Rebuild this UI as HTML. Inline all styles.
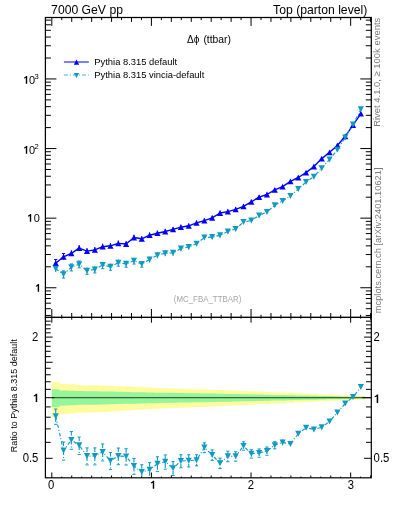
<!DOCTYPE html>
<html><head><meta charset="utf-8"><style>
html,body{margin:0;padding:0;background:#fff;overflow:hidden;width:393px;height:512px;}
svg{display:block;will-change:transform;}
text{font-family:'Liberation Sans',sans-serif;}
</style></head><body>
<svg width="393" height="512" viewBox="0 0 393 512">
<defs>
<clipPath id="cm"><rect x="45.4" y="17.5" width="325.90" height="299.90"/></clipPath>
<clipPath id="cr"><rect x="45.4" y="317.4" width="325.90" height="160.40"/></clipPath>
</defs>
<rect width="393" height="512" fill="#fff"/>
<path d="M51.80,381.76 L59.62,381.76 L59.62,383.97 L67.45,383.97 L67.45,384.35 L75.27,384.35 L75.27,384.95 L83.10,384.95 L83.10,385.13 L90.92,385.13 L90.92,385.30 L98.74,385.30 L98.74,385.48 L106.57,385.48 L106.57,385.86 L114.39,385.86 L114.39,386.25 L122.22,386.25 L122.22,386.57 L130.04,386.57 L130.04,386.90 L137.87,386.90 L137.87,387.24 L145.69,387.24 L145.69,387.57 L153.51,387.57 L153.51,387.90 L161.34,387.90 L161.34,388.24 L169.16,388.24 L169.16,388.58 L176.99,388.58 L176.99,388.77 L184.81,388.77 L184.81,388.97 L192.63,388.97 L192.63,389.17 L200.46,389.17 L200.46,389.37 L208.28,389.37 L208.28,389.68 L216.11,389.68 L216.11,389.99 L223.93,389.99 L223.93,390.31 L231.76,390.31 L231.76,390.62 L239.58,390.62 L239.58,390.94 L247.40,390.94 L247.40,391.26 L255.23,391.26 L255.23,391.57 L263.05,391.57 L263.05,391.89 L270.88,391.89 L270.88,392.22 L278.70,392.22 L278.70,392.54 L286.52,392.54 L286.52,392.86 L294.35,392.86 L294.35,393.19 L302.17,393.19 L302.17,393.53 L310.00,393.53 L310.00,393.87 L317.82,393.87 L317.82,394.22 L325.64,394.22 L325.64,394.57 L333.47,394.57 L333.47,394.91 L341.29,394.91 L341.29,395.26 L349.12,395.26 L349.12,395.62 L356.94,395.62 L356.94,395.97 L364.77,395.97 L364.77,399.47 L356.94,399.47 L356.94,399.83 L349.12,399.83 L349.12,400.21 L341.29,400.21 L341.29,400.58 L333.47,400.58 L333.47,400.95 L325.64,400.95 L325.64,401.33 L317.82,401.33 L317.82,401.70 L310.00,401.70 L310.00,402.08 L302.17,402.08 L302.17,402.46 L294.35,402.46 L294.35,402.82 L286.52,402.82 L286.52,403.19 L278.70,403.19 L278.70,403.55 L270.88,403.55 L270.88,403.92 L263.05,403.92 L263.05,404.29 L255.23,404.29 L255.23,404.66 L247.40,404.66 L247.40,405.03 L239.58,405.03 L239.58,405.40 L231.76,405.40 L231.76,405.78 L223.93,405.78 L223.93,406.15 L216.11,406.15 L216.11,406.53 L208.28,406.53 L208.28,406.91 L200.46,406.91 L200.46,407.15 L192.63,407.15 L192.63,407.40 L184.81,407.40 L184.81,407.64 L176.99,407.64 L176.99,407.89 L169.16,407.89 L169.16,408.31 L161.34,408.31 L161.34,408.73 L153.51,408.73 L153.51,409.16 L145.69,409.16 L145.69,409.59 L137.87,409.59 L137.87,410.02 L130.04,410.02 L130.04,410.45 L122.22,410.45 L122.22,410.89 L114.39,410.89 L114.39,411.40 L106.57,411.40 L106.57,411.91 L98.74,411.91 L98.74,412.15 L90.92,412.15 L90.92,412.39 L83.10,412.39 L83.10,412.63 L75.27,412.63 L75.27,413.46 L67.45,413.46 L67.45,413.99 L59.62,413.99 L59.62,417.21 L51.80,417.21Z" fill="#fffb9e"/>
<path d="M51.80,389.37 L59.62,389.37 L59.62,390.57 L67.45,390.57 L67.45,390.77 L75.27,390.77 L75.27,391.09 L83.10,391.09 L83.10,391.19 L90.92,391.19 L90.92,391.28 L98.74,391.28 L98.74,391.38 L106.57,391.38 L106.57,391.58 L114.39,391.58 L114.39,391.79 L122.22,391.79 L122.22,391.96 L130.04,391.96 L130.04,392.14 L137.87,392.14 L137.87,392.31 L145.69,392.31 L145.69,392.49 L153.51,392.49 L153.51,392.66 L161.34,392.66 L161.34,392.84 L169.16,392.84 L169.16,393.02 L176.99,393.02 L176.99,393.12 L184.81,393.12 L184.81,393.23 L192.63,393.23 L192.63,393.33 L200.46,393.33 L200.46,393.43 L208.28,393.43 L208.28,393.60 L216.11,393.60 L216.11,393.76 L223.93,393.76 L223.93,393.93 L231.76,393.93 L231.76,394.09 L239.58,394.09 L239.58,394.25 L247.40,394.25 L247.40,394.42 L255.23,394.42 L255.23,394.58 L263.05,394.58 L263.05,394.75 L270.88,394.75 L270.88,394.91 L278.70,394.91 L278.70,395.08 L286.52,395.08 L286.52,395.25 L294.35,395.25 L294.35,395.41 L302.17,395.41 L302.17,395.59 L310.00,395.59 L310.00,395.77 L317.82,395.77 L317.82,395.94 L325.64,395.94 L325.64,396.12 L333.47,396.12 L333.47,396.30 L341.29,396.30 L341.29,396.47 L349.12,396.47 L349.12,396.65 L356.94,396.65 L356.94,396.83 L364.77,396.83 L364.77,398.58 L356.94,398.58 L356.94,398.76 L349.12,398.76 L349.12,398.94 L341.29,398.94 L341.29,399.13 L333.47,399.13 L333.47,399.31 L325.64,399.31 L325.64,399.49 L317.82,399.49 L317.82,399.68 L310.00,399.68 L310.00,399.86 L302.17,399.86 L302.17,400.05 L294.35,400.05 L294.35,400.22 L286.52,400.22 L286.52,400.40 L278.70,400.40 L278.70,400.58 L270.88,400.58 L270.88,400.75 L263.05,400.75 L263.05,400.93 L255.23,400.93 L255.23,401.11 L247.40,401.11 L247.40,401.29 L239.58,401.29 L239.58,401.47 L231.76,401.47 L231.76,401.65 L223.93,401.65 L223.93,401.82 L216.11,401.82 L216.11,402.00 L208.28,402.00 L208.28,402.18 L200.46,402.18 L200.46,402.30 L192.63,402.30 L192.63,402.41 L184.81,402.41 L184.81,402.53 L176.99,402.53 L176.99,402.65 L169.16,402.65 L169.16,402.84 L161.34,402.84 L161.34,403.04 L153.51,403.04 L153.51,403.24 L145.69,403.24 L145.69,403.44 L137.87,403.44 L137.87,403.64 L130.04,403.64 L130.04,403.84 L122.22,403.84 L122.22,404.04 L114.39,404.04 L114.39,404.28 L106.57,404.28 L106.57,404.52 L98.74,404.52 L98.74,404.63 L90.92,404.63 L90.92,404.74 L83.10,404.74 L83.10,404.85 L75.27,404.85 L75.27,405.23 L67.45,405.23 L67.45,405.47 L59.62,405.47 L59.62,406.91 L51.80,406.91Z" fill="#94f59a"/>
<line x1="51.80" y1="397.70" x2="371.30" y2="397.70" stroke="#3d6438" stroke-width="1.2"/>
<g clip-path="url(#cm)">
<polyline fill="none" stroke="#0000ff" stroke-width="1.4" stroke-linejoin="round" points="55.71,263.20 63.54,256.80 71.36,253.40 79.18,248.20 87.01,251.10 94.83,249.90 102.66,246.70 110.48,245.80 118.31,243.40 126.13,244.00 133.95,237.50 141.78,238.80 149.60,235.20 157.43,233.20 165.25,231.50 173.07,229.40 180.90,227.20 188.72,225.80 196.55,222.80 204.37,220.60 212.19,217.90 220.02,213.00 227.84,211.60 235.67,209.30 243.49,206.30 251.32,201.80 259.14,197.10 266.96,194.50 274.79,189.80 282.61,186.60 290.44,181.30 298.26,177.50 306.08,172.60 313.91,166.50 321.73,158.60 329.56,152.30 337.38,145.50 345.21,136.30 353.03,125.20 360.85,113.70"/>
<polyline fill="none" stroke="#0f9ac4" stroke-width="1.15" stroke-dasharray="3.5,2,1,2" points="55.71,268.82 63.54,274.22 71.36,267.23 79.18,264.21 87.01,270.81 94.83,269.41 102.66,265.07 110.48,266.73 118.31,262.71 126.13,263.85 133.95,260.75 141.78,263.96 149.60,259.48 157.43,255.16 165.25,253.21 173.07,252.85 180.90,248.54 188.72,247.03 196.55,243.69 204.37,237.56 212.19,237.04 220.02,235.37 227.84,231.42 235.67,228.97 243.49,222.02 251.32,220.54 259.14,215.44 266.96,212.06 274.79,205.19 282.61,200.95 290.44,195.93 298.26,189.00 306.08,182.04 313.91,176.66 321.73,168.13 329.56,159.48 337.38,149.82 345.21,137.49 353.03,124.57 360.85,109.34"/>
<line x1="55.71" y1="265.94" x2="55.71" y2="272.01" stroke="#0f9ac4" stroke-width="1.1" />
<line x1="63.54" y1="270.84" x2="63.54" y2="278.04" stroke="#0f9ac4" stroke-width="1.1" /><line x1="61.94" y1="278.04" x2="65.14" y2="278.04" stroke="#0f9ac4" stroke-width="1"/><line x1="61.94" y1="270.84" x2="65.14" y2="270.84" stroke="#0f9ac4" stroke-width="1"/>
<line x1="71.36" y1="263.91" x2="71.36" y2="270.96" stroke="#0f9ac4" stroke-width="1.1" /><line x1="69.76" y1="270.96" x2="72.96" y2="270.96" stroke="#0f9ac4" stroke-width="1"/><line x1="69.76" y1="263.91" x2="72.96" y2="263.91" stroke="#0f9ac4" stroke-width="1"/>
<line x1="79.18" y1="260.95" x2="79.18" y2="267.87" stroke="#0f9ac4" stroke-width="1.1" /><line x1="77.58" y1="267.87" x2="80.78" y2="267.87" stroke="#0f9ac4" stroke-width="1"/><line x1="77.58" y1="260.95" x2="80.78" y2="260.95" stroke="#0f9ac4" stroke-width="1"/>
<line x1="87.01" y1="267.62" x2="87.01" y2="274.39" stroke="#0f9ac4" stroke-width="1.1" /><line x1="85.41" y1="274.39" x2="88.61" y2="274.39" stroke="#0f9ac4" stroke-width="1"/>
<line x1="94.83" y1="266.22" x2="94.83" y2="272.99" stroke="#0f9ac4" stroke-width="1.1" /><line x1="93.23" y1="272.99" x2="96.43" y2="272.99" stroke="#0f9ac4" stroke-width="1"/>
<line x1="102.66" y1="261.88" x2="102.66" y2="268.65" stroke="#0f9ac4" stroke-width="1.1" /><line x1="101.06" y1="268.65" x2="104.26" y2="268.65" stroke="#0f9ac4" stroke-width="1"/>
<line x1="110.48" y1="263.53" x2="110.48" y2="270.30" stroke="#0f9ac4" stroke-width="1.1" /><line x1="108.88" y1="270.30" x2="112.08" y2="270.30" stroke="#0f9ac4" stroke-width="1"/>
<line x1="118.31" y1="259.59" x2="118.31" y2="266.20" stroke="#0f9ac4" stroke-width="1.1" /><line x1="116.71" y1="266.20" x2="119.91" y2="266.20" stroke="#0f9ac4" stroke-width="1"/>
<line x1="126.13" y1="260.80" x2="126.13" y2="267.25" stroke="#0f9ac4" stroke-width="1.1" /><line x1="124.53" y1="267.25" x2="127.73" y2="267.25" stroke="#0f9ac4" stroke-width="1"/>
<line x1="133.95" y1="257.77" x2="133.95" y2="264.07" stroke="#0f9ac4" stroke-width="1.1" /><line x1="132.35" y1="264.07" x2="135.55" y2="264.07" stroke="#0f9ac4" stroke-width="1"/>
<line x1="141.78" y1="261.05" x2="141.78" y2="267.19" stroke="#0f9ac4" stroke-width="1.1" /><line x1="140.18" y1="267.19" x2="143.38" y2="267.19" stroke="#0f9ac4" stroke-width="1"/>
<line x1="149.60" y1="256.63" x2="149.60" y2="262.62" stroke="#0f9ac4" stroke-width="1.1" />
<line x1="157.43" y1="252.39" x2="157.43" y2="258.22" stroke="#0f9ac4" stroke-width="1.1" />
<line x1="165.25" y1="250.51" x2="165.25" y2="256.18" stroke="#0f9ac4" stroke-width="1.1" />
<line x1="173.07" y1="250.23" x2="173.07" y2="255.73" stroke="#0f9ac4" stroke-width="1.1" />
<line x1="180.90" y1="246.06" x2="180.90" y2="251.25" stroke="#0f9ac4" stroke-width="1.1" />
<line x1="188.72" y1="244.69" x2="188.72" y2="249.56" stroke="#0f9ac4" stroke-width="1.1" />
<line x1="196.55" y1="241.57" x2="196.55" y2="245.96" stroke="#0f9ac4" stroke-width="1.1" />
<line x1="204.37" y1="235.67" x2="204.37" y2="239.57" stroke="#0f9ac4" stroke-width="1.1" />
<line x1="212.19" y1="235.02" x2="212.19" y2="239.20" stroke="#0f9ac4" stroke-width="1.1" />
<line x1="220.02" y1="233.35" x2="220.02" y2="237.53" stroke="#0f9ac4" stroke-width="1.1" />
<line x1="227.84" y1="229.41" x2="227.84" y2="233.58" stroke="#0f9ac4" stroke-width="1.1" />
<line x1="235.67" y1="227.15" x2="235.67" y2="230.91" stroke="#0f9ac4" stroke-width="1.1" />
<line x1="243.49" y1="220.39" x2="243.49" y2="223.73" stroke="#0f9ac4" stroke-width="1.1" />
<line x1="251.32" y1="218.92" x2="251.32" y2="222.24" stroke="#0f9ac4" stroke-width="1.1" />
<line x1="259.14" y1="213.84" x2="259.14" y2="217.14" stroke="#0f9ac4" stroke-width="1.1" />
<line x1="266.96" y1="210.47" x2="266.96" y2="213.74" stroke="#0f9ac4" stroke-width="1.1" />
<line x1="274.79" y1="203.80" x2="274.79" y2="206.65" stroke="#0f9ac4" stroke-width="1.1" />
<line x1="282.61" y1="199.76" x2="282.61" y2="202.19" stroke="#0f9ac4" stroke-width="1.1" />
<line x1="290.44" y1="194.88" x2="290.44" y2="197.02" stroke="#0f9ac4" stroke-width="1.1" />
<line x1="298.26" y1="188.10" x2="298.26" y2="189.93" stroke="#0f9ac4" stroke-width="1.1" />
<line x1="306.08" y1="181.29" x2="306.08" y2="182.82" stroke="#0f9ac4" stroke-width="1.1" />
<line x1="313.91" y1="175.97" x2="313.91" y2="177.38" stroke="#0f9ac4" stroke-width="1.1" />
<line x1="321.73" y1="167.49" x2="321.73" y2="168.78" stroke="#0f9ac4" stroke-width="1.1" />
<line x1="329.56" y1="158.90" x2="329.56" y2="160.06" stroke="#0f9ac4" stroke-width="1.1" />
<line x1="337.38" y1="149.30" x2="337.38" y2="150.34" stroke="#0f9ac4" stroke-width="1.1" />
<line x1="345.21" y1="137.03" x2="345.21" y2="137.96" stroke="#0f9ac4" stroke-width="1.1" />
<line x1="353.03" y1="124.17" x2="353.03" y2="124.98" stroke="#0f9ac4" stroke-width="1.1" />
<line x1="360.85" y1="108.99" x2="360.85" y2="109.69" stroke="#0f9ac4" stroke-width="1.1" />
<line x1="55.71" y1="259.52" x2="55.71" y2="266.38" stroke="#0000ff" stroke-width="1.1"/>
<line x1="54.11" y1="259.52" x2="57.31" y2="259.52" stroke="#0000ff" stroke-width="1"/>
<path d="M52.61,266.10 L58.81,266.10 L55.71,260.30Z" fill="#0000ff"/>
<line x1="63.54" y1="253.53" x2="63.54" y2="259.49" stroke="#0000ff" stroke-width="1.1"/>
<line x1="61.94" y1="253.53" x2="65.14" y2="253.53" stroke="#0000ff" stroke-width="1"/>
<path d="M60.44,259.70 L66.64,259.70 L63.54,253.90Z" fill="#0000ff"/>
<line x1="71.36" y1="250.20" x2="71.36" y2="256.00" stroke="#0000ff" stroke-width="1.1"/>
<path d="M68.26,256.30 L74.46,256.30 L71.36,250.50Z" fill="#0000ff"/>
<line x1="79.18" y1="245.12" x2="79.18" y2="250.67" stroke="#0000ff" stroke-width="1.1"/>
<path d="M76.08,251.10 L82.28,251.10 L79.18,245.30Z" fill="#0000ff"/>
<line x1="87.01" y1="248.05" x2="87.01" y2="253.53" stroke="#0000ff" stroke-width="1.1"/>
<path d="M83.91,254.00 L90.11,254.00 L87.01,248.20Z" fill="#0000ff"/>
<line x1="94.83" y1="246.88" x2="94.83" y2="252.29" stroke="#0000ff" stroke-width="1.1"/>
<path d="M91.73,252.80 L97.93,252.80 L94.83,247.00Z" fill="#0000ff"/>
<line x1="102.66" y1="243.71" x2="102.66" y2="249.06" stroke="#0000ff" stroke-width="1.1"/>
<path d="M99.56,249.60 L105.76,249.60 L102.66,243.80Z" fill="#0000ff"/>
<line x1="110.48" y1="242.88" x2="110.48" y2="248.07" stroke="#0000ff" stroke-width="1.1"/>
<path d="M107.38,248.70 L113.58,248.70 L110.48,242.90Z" fill="#0000ff"/>
<line x1="118.31" y1="240.55" x2="118.31" y2="245.59" stroke="#0000ff" stroke-width="1.1"/>
<path d="M115.21,246.30 L121.41,246.30 L118.31,240.50Z" fill="#0000ff"/>
<line x1="126.13" y1="241.22" x2="126.13" y2="246.12" stroke="#0000ff" stroke-width="1.1"/>
<path d="M123.03,246.90 L129.23,246.90 L126.13,241.10Z" fill="#0000ff"/>
<line x1="133.95" y1="234.78" x2="133.95" y2="239.55" stroke="#0000ff" stroke-width="1.1"/>
<path d="M130.85,240.40 L137.05,240.40 L133.95,234.60Z" fill="#0000ff"/>
<line x1="141.78" y1="236.14" x2="141.78" y2="240.79" stroke="#0000ff" stroke-width="1.1"/>
<path d="M138.68,241.70 L144.88,241.70 L141.78,235.90Z" fill="#0000ff"/>
<line x1="149.60" y1="232.60" x2="149.60" y2="237.12" stroke="#0000ff" stroke-width="1.1"/>
<path d="M146.50,238.10 L152.70,238.10 L149.60,232.30Z" fill="#0000ff"/>
<line x1="157.43" y1="230.66" x2="157.43" y2="235.05" stroke="#0000ff" stroke-width="1.1"/>
<path d="M154.33,236.10 L160.53,236.10 L157.43,230.30Z" fill="#0000ff"/>
<line x1="165.25" y1="229.02" x2="165.25" y2="233.28" stroke="#0000ff" stroke-width="1.1"/>
<path d="M162.15,234.40 L168.35,234.40 L165.25,228.60Z" fill="#0000ff"/>
<line x1="173.07" y1="226.98" x2="173.07" y2="231.11" stroke="#0000ff" stroke-width="1.1"/>
<path d="M169.97,232.30 L176.17,232.30 L173.07,226.50Z" fill="#0000ff"/>
<line x1="180.90" y1="224.82" x2="180.90" y2="228.87" stroke="#0000ff" stroke-width="1.1"/>
<path d="M177.80,230.10 L184.00,230.10 L180.90,224.30Z" fill="#0000ff"/>
<line x1="188.72" y1="223.45" x2="188.72" y2="227.43" stroke="#0000ff" stroke-width="1.1"/>
<path d="M185.62,228.70 L191.82,228.70 L188.72,222.90Z" fill="#0000ff"/>
<line x1="196.55" y1="220.49" x2="196.55" y2="224.39" stroke="#0000ff" stroke-width="1.1"/>
<path d="M193.45,225.70 L199.65,225.70 L196.55,219.90Z" fill="#0000ff"/>
<line x1="204.37" y1="218.33" x2="204.37" y2="222.15" stroke="#0000ff" stroke-width="1.1"/>
<path d="M201.27,223.50 L207.47,223.50 L204.37,217.70Z" fill="#0000ff"/>
<line x1="212.19" y1="215.68" x2="212.19" y2="219.39" stroke="#0000ff" stroke-width="1.1"/>
<path d="M209.09,220.80 L215.29,220.80 L212.19,215.00Z" fill="#0000ff"/>
<line x1="220.02" y1="210.84" x2="220.02" y2="214.43" stroke="#0000ff" stroke-width="1.1"/>
<path d="M216.92,215.90 L223.12,215.90 L220.02,210.10Z" fill="#0000ff"/>
<line x1="227.84" y1="209.49" x2="227.84" y2="212.96" stroke="#0000ff" stroke-width="1.1"/>
<path d="M224.74,214.50 L230.94,214.50 L227.84,208.70Z" fill="#0000ff"/>
<line x1="235.67" y1="207.25" x2="235.67" y2="210.60" stroke="#0000ff" stroke-width="1.1"/>
<path d="M232.57,212.20 L238.77,212.20 L235.67,206.40Z" fill="#0000ff"/>
<line x1="243.49" y1="204.31" x2="243.49" y2="207.54" stroke="#0000ff" stroke-width="1.1"/>
<path d="M240.39,209.20 L246.59,209.20 L243.49,203.40Z" fill="#0000ff"/>
<line x1="251.32" y1="199.87" x2="251.32" y2="202.98" stroke="#0000ff" stroke-width="1.1"/>
<path d="M248.22,204.70 L254.42,204.70 L251.32,198.90Z" fill="#0000ff"/>
<line x1="259.14" y1="195.22" x2="259.14" y2="198.22" stroke="#0000ff" stroke-width="1.1"/>
<path d="M256.04,200.00 L262.24,200.00 L259.14,194.20Z" fill="#0000ff"/>
<line x1="266.96" y1="192.68" x2="266.96" y2="195.56" stroke="#0000ff" stroke-width="1.1"/>
<path d="M263.86,197.40 L270.06,197.40 L266.96,191.60Z" fill="#0000ff"/>
<line x1="274.79" y1="188.04" x2="274.79" y2="190.79" stroke="#0000ff" stroke-width="1.1"/>
<path d="M271.69,192.70 L277.89,192.70 L274.79,186.90Z" fill="#0000ff"/>
<line x1="282.61" y1="184.89" x2="282.61" y2="187.53" stroke="#0000ff" stroke-width="1.1"/>
<path d="M279.51,189.50 L285.71,189.50 L282.61,183.70Z" fill="#0000ff"/>
<line x1="290.44" y1="179.65" x2="290.44" y2="182.17" stroke="#0000ff" stroke-width="1.1"/>
<path d="M287.34,184.20 L293.54,184.20 L290.44,178.40Z" fill="#0000ff"/>
<line x1="298.26" y1="175.91" x2="298.26" y2="178.31" stroke="#0000ff" stroke-width="1.1"/>
<path d="M295.16,180.40 L301.36,180.40 L298.26,174.60Z" fill="#0000ff"/>
<line x1="306.08" y1="171.07" x2="306.08" y2="173.35" stroke="#0000ff" stroke-width="1.1"/>
<path d="M302.98,175.50 L309.18,175.50 L306.08,169.70Z" fill="#0000ff"/>
<line x1="313.91" y1="165.03" x2="313.91" y2="167.18" stroke="#0000ff" stroke-width="1.1"/>
<path d="M310.81,169.40 L317.01,169.40 L313.91,163.60Z" fill="#0000ff"/>
<line x1="321.73" y1="157.19" x2="321.73" y2="159.22" stroke="#0000ff" stroke-width="1.1"/>
<path d="M318.63,161.50 L324.83,161.50 L321.73,155.70Z" fill="#0000ff"/>
<line x1="329.56" y1="150.95" x2="329.56" y2="152.86" stroke="#0000ff" stroke-width="1.1"/>
<path d="M326.46,155.20 L332.66,155.20 L329.56,149.40Z" fill="#0000ff"/>
<line x1="337.38" y1="144.21" x2="337.38" y2="145.99" stroke="#0000ff" stroke-width="1.1"/>
<path d="M334.28,148.40 L340.48,148.40 L337.38,142.60Z" fill="#0000ff"/>
<line x1="345.21" y1="135.08" x2="345.21" y2="136.73" stroke="#0000ff" stroke-width="1.1"/>
<path d="M342.11,139.20 L348.31,139.20 L345.21,133.40Z" fill="#0000ff"/>
<line x1="353.03" y1="124.04" x2="353.03" y2="125.57" stroke="#0000ff" stroke-width="1.1"/>
<path d="M349.93,128.10 L356.13,128.10 L353.03,122.30Z" fill="#0000ff"/>
<line x1="360.85" y1="112.60" x2="360.85" y2="114.00" stroke="#0000ff" stroke-width="1.1"/>
<path d="M357.75,116.60 L363.95,116.60 L360.85,110.80Z" fill="#0000ff"/>
<path d="M52.61,265.82 L58.81,265.82 L55.71,271.82Z" fill="#0f9ac4"/>
<path d="M60.44,271.22 L66.64,271.22 L63.54,277.22Z" fill="#0f9ac4"/>
<path d="M68.26,264.23 L74.46,264.23 L71.36,270.23Z" fill="#0f9ac4"/>
<path d="M76.08,261.21 L82.28,261.21 L79.18,267.21Z" fill="#0f9ac4"/>
<path d="M83.91,267.81 L90.11,267.81 L87.01,273.81Z" fill="#0f9ac4"/>
<path d="M91.73,266.41 L97.93,266.41 L94.83,272.41Z" fill="#0f9ac4"/>
<path d="M99.56,262.07 L105.76,262.07 L102.66,268.07Z" fill="#0f9ac4"/>
<path d="M107.38,263.73 L113.58,263.73 L110.48,269.73Z" fill="#0f9ac4"/>
<path d="M115.21,259.71 L121.41,259.71 L118.31,265.71Z" fill="#0f9ac4"/>
<path d="M123.03,260.85 L129.23,260.85 L126.13,266.85Z" fill="#0f9ac4"/>
<path d="M130.85,257.75 L137.05,257.75 L133.95,263.75Z" fill="#0f9ac4"/>
<path d="M138.68,260.96 L144.88,260.96 L141.78,266.96Z" fill="#0f9ac4"/>
<path d="M146.50,256.48 L152.70,256.48 L149.60,262.48Z" fill="#0f9ac4"/>
<path d="M154.33,252.16 L160.53,252.16 L157.43,258.16Z" fill="#0f9ac4"/>
<path d="M162.15,250.21 L168.35,250.21 L165.25,256.21Z" fill="#0f9ac4"/>
<path d="M169.97,249.85 L176.17,249.85 L173.07,255.85Z" fill="#0f9ac4"/>
<path d="M177.80,245.54 L184.00,245.54 L180.90,251.54Z" fill="#0f9ac4"/>
<path d="M185.62,244.03 L191.82,244.03 L188.72,250.03Z" fill="#0f9ac4"/>
<path d="M193.45,240.69 L199.65,240.69 L196.55,246.69Z" fill="#0f9ac4"/>
<path d="M201.27,234.56 L207.47,234.56 L204.37,240.56Z" fill="#0f9ac4"/>
<path d="M209.09,234.04 L215.29,234.04 L212.19,240.04Z" fill="#0f9ac4"/>
<path d="M216.92,232.37 L223.12,232.37 L220.02,238.37Z" fill="#0f9ac4"/>
<path d="M224.74,228.42 L230.94,228.42 L227.84,234.42Z" fill="#0f9ac4"/>
<path d="M232.57,225.97 L238.77,225.97 L235.67,231.97Z" fill="#0f9ac4"/>
<path d="M240.39,219.02 L246.59,219.02 L243.49,225.02Z" fill="#0f9ac4"/>
<path d="M248.22,217.54 L254.42,217.54 L251.32,223.54Z" fill="#0f9ac4"/>
<path d="M256.04,212.44 L262.24,212.44 L259.14,218.44Z" fill="#0f9ac4"/>
<path d="M263.86,209.06 L270.06,209.06 L266.96,215.06Z" fill="#0f9ac4"/>
<path d="M271.69,202.19 L277.89,202.19 L274.79,208.19Z" fill="#0f9ac4"/>
<path d="M279.51,197.95 L285.71,197.95 L282.61,203.95Z" fill="#0f9ac4"/>
<path d="M287.34,192.93 L293.54,192.93 L290.44,198.93Z" fill="#0f9ac4"/>
<path d="M295.16,186.00 L301.36,186.00 L298.26,192.00Z" fill="#0f9ac4"/>
<path d="M302.98,179.04 L309.18,179.04 L306.08,185.04Z" fill="#0f9ac4"/>
<path d="M310.81,173.66 L317.01,173.66 L313.91,179.66Z" fill="#0f9ac4"/>
<path d="M318.63,165.13 L324.83,165.13 L321.73,171.13Z" fill="#0f9ac4"/>
<path d="M326.46,156.48 L332.66,156.48 L329.56,162.48Z" fill="#0f9ac4"/>
<path d="M334.28,146.82 L340.48,146.82 L337.38,152.82Z" fill="#0f9ac4"/>
<path d="M342.11,134.49 L348.31,134.49 L345.21,140.49Z" fill="#0f9ac4"/>
<path d="M349.93,121.57 L356.13,121.57 L353.03,127.57Z" fill="#0f9ac4"/>
<path d="M357.75,106.34 L363.95,106.34 L360.85,112.34Z" fill="#0f9ac4"/>
</g>
<g clip-path="url(#cr)">
<polyline fill="none" stroke="#0f9ac4" stroke-width="1.15" stroke-dasharray="3.5,2,1,2" points="55.71,416.29 63.54,450.56 71.36,439.95 79.18,445.32 87.01,455.97 94.83,455.97 102.66,452.01 110.48,460.66 118.31,455.97 126.13,456.48 133.95,466.00 141.78,472.08 149.60,469.87 157.43,463.75 165.25,461.74 173.07,468.30 180.90,461.02 188.72,460.66 196.55,460.13 204.37,447.60 212.19,454.97 220.02,463.20 227.84,456.31 235.67,456.31 243.49,445.92 251.32,453.80 259.14,452.98 266.96,451.04 274.79,445.17 282.61,442.38 290.44,443.98 298.26,433.70 306.08,427.63 313.91,429.48 321.73,427.26 329.56,421.49 337.38,412.51 345.21,403.43 353.03,397.00 360.85,387.00"/>
<line x1="55.71" y1="409.00" x2="55.71" y2="424.25" stroke="#0f9ac4" stroke-width="1.1" stroke-dasharray="4,2,1,2"/><line x1="54.11" y1="424.25" x2="57.31" y2="424.25" stroke="#0f9ac4" stroke-width="1"/><line x1="54.11" y1="409.00" x2="57.31" y2="409.00" stroke="#0f9ac4" stroke-width="1"/>
<path d="M52.61,413.29 L58.81,413.29 L55.71,419.29Z" fill="#0f9ac4"/>
<line x1="63.54" y1="441.99" x2="63.54" y2="460.07" stroke="#0f9ac4" stroke-width="1.1" stroke-dasharray="4,2,1,2"/><line x1="61.94" y1="460.07" x2="65.14" y2="460.07" stroke="#0f9ac4" stroke-width="1"/><line x1="61.94" y1="441.99" x2="65.14" y2="441.99" stroke="#0f9ac4" stroke-width="1"/>
<path d="M60.44,447.56 L66.64,447.56 L63.54,453.56Z" fill="#0f9ac4"/>
<line x1="71.36" y1="431.54" x2="71.36" y2="449.26" stroke="#0f9ac4" stroke-width="1.1" stroke-dasharray="4,2,1,2"/><line x1="69.76" y1="449.26" x2="72.96" y2="449.26" stroke="#0f9ac4" stroke-width="1"/><line x1="69.76" y1="431.54" x2="72.96" y2="431.54" stroke="#0f9ac4" stroke-width="1"/>
<path d="M68.26,436.95 L74.46,436.95 L71.36,442.95Z" fill="#0f9ac4"/>
<line x1="79.18" y1="437.07" x2="79.18" y2="454.43" stroke="#0f9ac4" stroke-width="1.1" stroke-dasharray="4,2,1,2"/><line x1="77.58" y1="454.43" x2="80.78" y2="454.43" stroke="#0f9ac4" stroke-width="1"/><line x1="77.58" y1="437.07" x2="80.78" y2="437.07" stroke="#0f9ac4" stroke-width="1"/>
<path d="M76.08,442.32 L82.28,442.32 L79.18,448.32Z" fill="#0f9ac4"/>
<line x1="87.01" y1="447.88" x2="87.01" y2="464.89" stroke="#0f9ac4" stroke-width="1.1" stroke-dasharray="4,2,1,2"/><line x1="85.41" y1="464.89" x2="88.61" y2="464.89" stroke="#0f9ac4" stroke-width="1"/><line x1="85.41" y1="447.88" x2="88.61" y2="447.88" stroke="#0f9ac4" stroke-width="1"/>
<path d="M83.91,452.97 L90.11,452.97 L87.01,458.97Z" fill="#0f9ac4"/>
<line x1="94.83" y1="447.88" x2="94.83" y2="464.89" stroke="#0f9ac4" stroke-width="1.1" stroke-dasharray="4,2,1,2"/><line x1="93.23" y1="464.89" x2="96.43" y2="464.89" stroke="#0f9ac4" stroke-width="1"/><line x1="93.23" y1="447.88" x2="96.43" y2="447.88" stroke="#0f9ac4" stroke-width="1"/>
<path d="M91.73,452.97 L97.93,452.97 L94.83,458.97Z" fill="#0f9ac4"/>
<line x1="102.66" y1="443.91" x2="102.66" y2="460.93" stroke="#0f9ac4" stroke-width="1.1" stroke-dasharray="4,2,1,2"/><line x1="101.06" y1="460.93" x2="104.26" y2="460.93" stroke="#0f9ac4" stroke-width="1"/><line x1="101.06" y1="443.91" x2="104.26" y2="443.91" stroke="#0f9ac4" stroke-width="1"/>
<path d="M99.56,449.01 L105.76,449.01 L102.66,455.01Z" fill="#0f9ac4"/>
<line x1="110.48" y1="452.57" x2="110.48" y2="469.58" stroke="#0f9ac4" stroke-width="1.1" stroke-dasharray="4,2,1,2"/><line x1="108.88" y1="469.58" x2="112.08" y2="469.58" stroke="#0f9ac4" stroke-width="1"/><line x1="108.88" y1="452.57" x2="112.08" y2="452.57" stroke="#0f9ac4" stroke-width="1"/>
<path d="M107.38,457.66 L113.58,457.66 L110.48,463.66Z" fill="#0f9ac4"/>
<line x1="118.31" y1="448.06" x2="118.31" y2="464.68" stroke="#0f9ac4" stroke-width="1.1" stroke-dasharray="4,2,1,2"/><line x1="116.71" y1="464.68" x2="119.91" y2="464.68" stroke="#0f9ac4" stroke-width="1"/><line x1="116.71" y1="448.06" x2="119.91" y2="448.06" stroke="#0f9ac4" stroke-width="1"/>
<path d="M115.21,452.97 L121.41,452.97 L118.31,458.97Z" fill="#0f9ac4"/>
<line x1="126.13" y1="448.75" x2="126.13" y2="464.97" stroke="#0f9ac4" stroke-width="1.1" stroke-dasharray="4,2,1,2"/><line x1="124.53" y1="464.97" x2="127.73" y2="464.97" stroke="#0f9ac4" stroke-width="1"/><line x1="124.53" y1="448.75" x2="127.73" y2="448.75" stroke="#0f9ac4" stroke-width="1"/>
<path d="M123.03,453.48 L129.23,453.48 L126.13,459.48Z" fill="#0f9ac4"/>
<line x1="133.95" y1="458.44" x2="133.95" y2="474.27" stroke="#0f9ac4" stroke-width="1.1" stroke-dasharray="4,2,1,2"/><line x1="132.35" y1="474.27" x2="135.55" y2="474.27" stroke="#0f9ac4" stroke-width="1"/><line x1="132.35" y1="458.44" x2="135.55" y2="458.44" stroke="#0f9ac4" stroke-width="1"/>
<path d="M130.85,463.00 L137.05,463.00 L133.95,469.00Z" fill="#0f9ac4"/>
<line x1="141.78" y1="464.71" x2="141.78" y2="480.14" stroke="#0f9ac4" stroke-width="1.1" stroke-dasharray="4,2,1,2"/><line x1="140.18" y1="480.14" x2="143.38" y2="480.14" stroke="#0f9ac4" stroke-width="1"/><line x1="140.18" y1="464.71" x2="143.38" y2="464.71" stroke="#0f9ac4" stroke-width="1"/>
<path d="M138.68,469.08 L144.88,469.08 L141.78,475.08Z" fill="#0f9ac4"/>
<line x1="149.60" y1="462.68" x2="149.60" y2="477.71" stroke="#0f9ac4" stroke-width="1.1" stroke-dasharray="4,2,1,2"/><line x1="148.00" y1="477.71" x2="151.20" y2="477.71" stroke="#0f9ac4" stroke-width="1"/><line x1="148.00" y1="462.68" x2="151.20" y2="462.68" stroke="#0f9ac4" stroke-width="1"/>
<path d="M146.50,466.87 L152.70,466.87 L149.60,472.87Z" fill="#0f9ac4"/>
<line x1="157.43" y1="456.74" x2="157.43" y2="471.37" stroke="#0f9ac4" stroke-width="1.1" stroke-dasharray="4,2,1,2"/><line x1="155.83" y1="471.37" x2="159.03" y2="471.37" stroke="#0f9ac4" stroke-width="1"/><line x1="155.83" y1="456.74" x2="159.03" y2="456.74" stroke="#0f9ac4" stroke-width="1"/>
<path d="M154.33,460.75 L160.53,460.75 L157.43,466.75Z" fill="#0f9ac4"/>
<line x1="165.25" y1="454.91" x2="165.25" y2="469.15" stroke="#0f9ac4" stroke-width="1.1" stroke-dasharray="4,2,1,2"/><line x1="163.65" y1="469.15" x2="166.85" y2="469.15" stroke="#0f9ac4" stroke-width="1"/><line x1="163.65" y1="454.91" x2="166.85" y2="454.91" stroke="#0f9ac4" stroke-width="1"/>
<path d="M162.15,458.74 L168.35,458.74 L165.25,464.74Z" fill="#0f9ac4"/>
<line x1="173.07" y1="461.66" x2="173.07" y2="475.50" stroke="#0f9ac4" stroke-width="1.1" stroke-dasharray="4,2,1,2"/><line x1="171.47" y1="475.50" x2="174.67" y2="475.50" stroke="#0f9ac4" stroke-width="1"/><line x1="171.47" y1="461.66" x2="174.67" y2="461.66" stroke="#0f9ac4" stroke-width="1"/>
<path d="M169.97,465.30 L176.17,465.30 L173.07,471.30Z" fill="#0f9ac4"/>
<line x1="180.90" y1="454.74" x2="180.90" y2="467.79" stroke="#0f9ac4" stroke-width="1.1" stroke-dasharray="4,2,1,2"/><line x1="179.30" y1="467.79" x2="182.50" y2="467.79" stroke="#0f9ac4" stroke-width="1"/><line x1="179.30" y1="454.74" x2="182.50" y2="454.74" stroke="#0f9ac4" stroke-width="1"/>
<path d="M177.80,458.02 L184.00,458.02 L180.90,464.02Z" fill="#0f9ac4"/>
<line x1="188.72" y1="454.75" x2="188.72" y2="467.01" stroke="#0f9ac4" stroke-width="1.1" stroke-dasharray="4,2,1,2"/><line x1="187.12" y1="467.01" x2="190.32" y2="467.01" stroke="#0f9ac4" stroke-width="1"/><line x1="187.12" y1="454.75" x2="190.32" y2="454.75" stroke="#0f9ac4" stroke-width="1"/>
<path d="M185.62,457.66 L191.82,457.66 L188.72,463.66Z" fill="#0f9ac4"/>
<line x1="196.55" y1="454.79" x2="196.55" y2="465.82" stroke="#0f9ac4" stroke-width="1.1" stroke-dasharray="4,2,1,2"/><line x1="194.95" y1="465.82" x2="198.15" y2="465.82" stroke="#0f9ac4" stroke-width="1"/><line x1="194.95" y1="454.79" x2="198.15" y2="454.79" stroke="#0f9ac4" stroke-width="1"/>
<path d="M193.45,457.13 L199.65,457.13 L196.55,463.13Z" fill="#0f9ac4"/>
<line x1="204.37" y1="442.83" x2="204.37" y2="452.63" stroke="#0f9ac4" stroke-width="1.1" stroke-dasharray="4,2,1,2"/><line x1="202.77" y1="452.63" x2="205.97" y2="452.63" stroke="#0f9ac4" stroke-width="1"/><line x1="202.77" y1="442.83" x2="205.97" y2="442.83" stroke="#0f9ac4" stroke-width="1"/>
<path d="M201.27,444.60 L207.47,444.60 L204.37,450.60Z" fill="#0f9ac4"/>
<line x1="212.19" y1="449.87" x2="212.19" y2="460.37" stroke="#0f9ac4" stroke-width="1.1" stroke-dasharray="4,2,1,2"/><line x1="210.59" y1="460.37" x2="213.79" y2="460.37" stroke="#0f9ac4" stroke-width="1"/><line x1="210.59" y1="449.87" x2="213.79" y2="449.87" stroke="#0f9ac4" stroke-width="1"/>
<path d="M209.09,451.97 L215.29,451.97 L212.19,457.97Z" fill="#0f9ac4"/>
<line x1="220.02" y1="458.10" x2="220.02" y2="468.61" stroke="#0f9ac4" stroke-width="1.1" stroke-dasharray="4,2,1,2"/><line x1="218.42" y1="468.61" x2="221.62" y2="468.61" stroke="#0f9ac4" stroke-width="1"/><line x1="218.42" y1="458.10" x2="221.62" y2="458.10" stroke="#0f9ac4" stroke-width="1"/>
<path d="M216.92,460.20 L223.12,460.20 L220.02,466.20Z" fill="#0f9ac4"/>
<line x1="227.84" y1="451.22" x2="227.84" y2="461.72" stroke="#0f9ac4" stroke-width="1.1" stroke-dasharray="4,2,1,2"/><line x1="226.24" y1="461.72" x2="229.44" y2="461.72" stroke="#0f9ac4" stroke-width="1"/><line x1="226.24" y1="451.22" x2="229.44" y2="451.22" stroke="#0f9ac4" stroke-width="1"/>
<path d="M224.74,453.31 L230.94,453.31 L227.84,459.31Z" fill="#0f9ac4"/>
<line x1="235.67" y1="451.72" x2="235.67" y2="461.17" stroke="#0f9ac4" stroke-width="1.1" stroke-dasharray="4,2,1,2"/><line x1="234.07" y1="461.17" x2="237.27" y2="461.17" stroke="#0f9ac4" stroke-width="1"/><line x1="234.07" y1="451.72" x2="237.27" y2="451.72" stroke="#0f9ac4" stroke-width="1"/>
<path d="M232.57,453.31 L238.77,453.31 L235.67,459.31Z" fill="#0f9ac4"/>
<line x1="243.49" y1="441.82" x2="243.49" y2="450.22" stroke="#0f9ac4" stroke-width="1.1" stroke-dasharray="4,2,1,2"/><line x1="241.89" y1="450.22" x2="245.09" y2="450.22" stroke="#0f9ac4" stroke-width="1"/><line x1="241.89" y1="441.82" x2="245.09" y2="441.82" stroke="#0f9ac4" stroke-width="1"/>
<path d="M240.39,442.92 L246.59,442.92 L243.49,448.92Z" fill="#0f9ac4"/>
<line x1="251.32" y1="449.73" x2="251.32" y2="458.07" stroke="#0f9ac4" stroke-width="1.1" stroke-dasharray="4,2,1,2"/><line x1="249.72" y1="458.07" x2="252.92" y2="458.07" stroke="#0f9ac4" stroke-width="1"/><line x1="249.72" y1="449.73" x2="252.92" y2="449.73" stroke="#0f9ac4" stroke-width="1"/>
<path d="M248.22,450.80 L254.42,450.80 L251.32,456.80Z" fill="#0f9ac4"/>
<line x1="259.14" y1="448.94" x2="259.14" y2="457.22" stroke="#0f9ac4" stroke-width="1.1" stroke-dasharray="4,2,1,2"/><line x1="257.54" y1="457.22" x2="260.74" y2="457.22" stroke="#0f9ac4" stroke-width="1"/><line x1="257.54" y1="448.94" x2="260.74" y2="448.94" stroke="#0f9ac4" stroke-width="1"/>
<path d="M256.04,449.98 L262.24,449.98 L259.14,455.98Z" fill="#0f9ac4"/>
<line x1="266.96" y1="447.03" x2="266.96" y2="455.25" stroke="#0f9ac4" stroke-width="1.1" stroke-dasharray="4,2,1,2"/><line x1="265.36" y1="455.25" x2="268.56" y2="455.25" stroke="#0f9ac4" stroke-width="1"/><line x1="265.36" y1="447.03" x2="268.56" y2="447.03" stroke="#0f9ac4" stroke-width="1"/>
<path d="M263.86,448.04 L270.06,448.04 L266.96,454.04Z" fill="#0f9ac4"/>
<line x1="274.79" y1="441.66" x2="274.79" y2="448.83" stroke="#0f9ac4" stroke-width="1.1" stroke-dasharray="4,2,1,2"/><line x1="273.19" y1="448.83" x2="276.39" y2="448.83" stroke="#0f9ac4" stroke-width="1"/><line x1="273.19" y1="441.66" x2="276.39" y2="441.66" stroke="#0f9ac4" stroke-width="1"/>
<path d="M271.69,442.17 L277.89,442.17 L274.79,448.17Z" fill="#0f9ac4"/>
<line x1="282.61" y1="439.37" x2="282.61" y2="445.49" stroke="#0f9ac4" stroke-width="1.1" stroke-dasharray="4,2,1,2"/>
<path d="M279.51,439.38 L285.71,439.38 L282.61,445.38Z" fill="#0f9ac4"/>
<line x1="290.44" y1="441.34" x2="290.44" y2="446.71" stroke="#0f9ac4" stroke-width="1.1" stroke-dasharray="4,2,1,2"/>
<path d="M287.34,440.98 L293.54,440.98 L290.44,446.98Z" fill="#0f9ac4"/>
<line x1="298.26" y1="431.43" x2="298.26" y2="436.04" stroke="#0f9ac4" stroke-width="1.1" stroke-dasharray="4,2,1,2"/>
<path d="M295.16,430.70 L301.36,430.70 L298.26,436.70Z" fill="#0f9ac4"/>
<line x1="306.08" y1="425.73" x2="306.08" y2="429.57" stroke="#0f9ac4" stroke-width="1.1" stroke-dasharray="4,2,1,2"/>
<path d="M302.98,424.63 L309.18,424.63 L306.08,430.63Z" fill="#0f9ac4"/>
<line x1="313.91" y1="427.73" x2="313.91" y2="431.27" stroke="#0f9ac4" stroke-width="1.1" stroke-dasharray="4,2,1,2"/>
<path d="M310.81,426.48 L317.01,426.48 L313.91,432.48Z" fill="#0f9ac4"/>
<line x1="321.73" y1="425.66" x2="321.73" y2="428.89" stroke="#0f9ac4" stroke-width="1.1" stroke-dasharray="4,2,1,2"/>
<path d="M318.63,424.26 L324.83,424.26 L321.73,430.26Z" fill="#0f9ac4"/>
<line x1="329.56" y1="420.04" x2="329.56" y2="422.97" stroke="#0f9ac4" stroke-width="1.1" stroke-dasharray="4,2,1,2"/>
<path d="M326.46,418.49 L332.66,418.49 L329.56,424.49Z" fill="#0f9ac4"/>
<line x1="337.38" y1="411.21" x2="337.38" y2="413.83" stroke="#0f9ac4" stroke-width="1.1" stroke-dasharray="4,2,1,2"/>
<path d="M334.28,409.51 L340.48,409.51 L337.38,415.51Z" fill="#0f9ac4"/>
<line x1="345.21" y1="402.27" x2="345.21" y2="404.60" stroke="#0f9ac4" stroke-width="1.1" stroke-dasharray="4,2,1,2"/>
<path d="M342.11,400.43 L348.31,400.43 L345.21,406.43Z" fill="#0f9ac4"/>
<line x1="353.03" y1="395.98" x2="353.03" y2="398.02" stroke="#0f9ac4" stroke-width="1.1" stroke-dasharray="4,2,1,2"/>
<path d="M349.93,394.00 L356.13,394.00 L353.03,400.00Z" fill="#0f9ac4"/>
<line x1="360.85" y1="386.13" x2="360.85" y2="387.88" stroke="#0f9ac4" stroke-width="1.1" stroke-dasharray="4,2,1,2"/>
<path d="M357.75,384.00 L363.95,384.00 L360.85,390.00Z" fill="#0f9ac4"/>
</g>
<line x1="45.40" y1="315.45" x2="50.90" y2="315.45" stroke="#000" stroke-width="1.0"/>
<line x1="371.30" y1="315.45" x2="365.80" y2="315.45" stroke="#000" stroke-width="1.0"/>
<line x1="45.40" y1="308.70" x2="50.90" y2="308.70" stroke="#000" stroke-width="1.0"/>
<line x1="371.30" y1="308.70" x2="365.80" y2="308.70" stroke="#000" stroke-width="1.0"/>
<line x1="45.40" y1="303.19" x2="50.90" y2="303.19" stroke="#000" stroke-width="1.0"/>
<line x1="371.30" y1="303.19" x2="365.80" y2="303.19" stroke="#000" stroke-width="1.0"/>
<line x1="45.40" y1="298.53" x2="50.90" y2="298.53" stroke="#000" stroke-width="1.0"/>
<line x1="371.30" y1="298.53" x2="365.80" y2="298.53" stroke="#000" stroke-width="1.0"/>
<line x1="45.40" y1="294.49" x2="50.90" y2="294.49" stroke="#000" stroke-width="1.0"/>
<line x1="371.30" y1="294.49" x2="365.80" y2="294.49" stroke="#000" stroke-width="1.0"/>
<line x1="45.40" y1="290.93" x2="50.90" y2="290.93" stroke="#000" stroke-width="1.0"/>
<line x1="371.30" y1="290.93" x2="365.80" y2="290.93" stroke="#000" stroke-width="1.0"/>
<line x1="45.40" y1="287.75" x2="56.40" y2="287.75" stroke="#000" stroke-width="1.0"/>
<line x1="371.30" y1="287.75" x2="360.30" y2="287.75" stroke="#000" stroke-width="1.0"/>
<line x1="45.40" y1="266.80" x2="50.90" y2="266.80" stroke="#000" stroke-width="1.0"/>
<line x1="371.30" y1="266.80" x2="365.80" y2="266.80" stroke="#000" stroke-width="1.0"/>
<line x1="45.40" y1="254.54" x2="50.90" y2="254.54" stroke="#000" stroke-width="1.0"/>
<line x1="371.30" y1="254.54" x2="365.80" y2="254.54" stroke="#000" stroke-width="1.0"/>
<line x1="45.40" y1="245.85" x2="50.90" y2="245.85" stroke="#000" stroke-width="1.0"/>
<line x1="371.30" y1="245.85" x2="365.80" y2="245.85" stroke="#000" stroke-width="1.0"/>
<line x1="45.40" y1="239.10" x2="50.90" y2="239.10" stroke="#000" stroke-width="1.0"/>
<line x1="371.30" y1="239.10" x2="365.80" y2="239.10" stroke="#000" stroke-width="1.0"/>
<line x1="45.40" y1="233.59" x2="50.90" y2="233.59" stroke="#000" stroke-width="1.0"/>
<line x1="371.30" y1="233.59" x2="365.80" y2="233.59" stroke="#000" stroke-width="1.0"/>
<line x1="45.40" y1="228.93" x2="50.90" y2="228.93" stroke="#000" stroke-width="1.0"/>
<line x1="371.30" y1="228.93" x2="365.80" y2="228.93" stroke="#000" stroke-width="1.0"/>
<line x1="45.40" y1="224.89" x2="50.90" y2="224.89" stroke="#000" stroke-width="1.0"/>
<line x1="371.30" y1="224.89" x2="365.80" y2="224.89" stroke="#000" stroke-width="1.0"/>
<line x1="45.40" y1="221.33" x2="50.90" y2="221.33" stroke="#000" stroke-width="1.0"/>
<line x1="371.30" y1="221.33" x2="365.80" y2="221.33" stroke="#000" stroke-width="1.0"/>
<line x1="45.40" y1="218.15" x2="56.40" y2="218.15" stroke="#000" stroke-width="1.0"/>
<line x1="371.30" y1="218.15" x2="360.30" y2="218.15" stroke="#000" stroke-width="1.0"/>
<line x1="45.40" y1="197.20" x2="50.90" y2="197.20" stroke="#000" stroke-width="1.0"/>
<line x1="371.30" y1="197.20" x2="365.80" y2="197.20" stroke="#000" stroke-width="1.0"/>
<line x1="45.40" y1="184.94" x2="50.90" y2="184.94" stroke="#000" stroke-width="1.0"/>
<line x1="371.30" y1="184.94" x2="365.80" y2="184.94" stroke="#000" stroke-width="1.0"/>
<line x1="45.40" y1="176.25" x2="50.90" y2="176.25" stroke="#000" stroke-width="1.0"/>
<line x1="371.30" y1="176.25" x2="365.80" y2="176.25" stroke="#000" stroke-width="1.0"/>
<line x1="45.40" y1="169.50" x2="50.90" y2="169.50" stroke="#000" stroke-width="1.0"/>
<line x1="371.30" y1="169.50" x2="365.80" y2="169.50" stroke="#000" stroke-width="1.0"/>
<line x1="45.40" y1="163.99" x2="50.90" y2="163.99" stroke="#000" stroke-width="1.0"/>
<line x1="371.30" y1="163.99" x2="365.80" y2="163.99" stroke="#000" stroke-width="1.0"/>
<line x1="45.40" y1="159.33" x2="50.90" y2="159.33" stroke="#000" stroke-width="1.0"/>
<line x1="371.30" y1="159.33" x2="365.80" y2="159.33" stroke="#000" stroke-width="1.0"/>
<line x1="45.40" y1="155.29" x2="50.90" y2="155.29" stroke="#000" stroke-width="1.0"/>
<line x1="371.30" y1="155.29" x2="365.80" y2="155.29" stroke="#000" stroke-width="1.0"/>
<line x1="45.40" y1="151.73" x2="50.90" y2="151.73" stroke="#000" stroke-width="1.0"/>
<line x1="371.30" y1="151.73" x2="365.80" y2="151.73" stroke="#000" stroke-width="1.0"/>
<line x1="45.40" y1="148.55" x2="56.40" y2="148.55" stroke="#000" stroke-width="1.0"/>
<line x1="371.30" y1="148.55" x2="360.30" y2="148.55" stroke="#000" stroke-width="1.0"/>
<line x1="45.40" y1="127.60" x2="50.90" y2="127.60" stroke="#000" stroke-width="1.0"/>
<line x1="371.30" y1="127.60" x2="365.80" y2="127.60" stroke="#000" stroke-width="1.0"/>
<line x1="45.40" y1="115.34" x2="50.90" y2="115.34" stroke="#000" stroke-width="1.0"/>
<line x1="371.30" y1="115.34" x2="365.80" y2="115.34" stroke="#000" stroke-width="1.0"/>
<line x1="45.40" y1="106.65" x2="50.90" y2="106.65" stroke="#000" stroke-width="1.0"/>
<line x1="371.30" y1="106.65" x2="365.80" y2="106.65" stroke="#000" stroke-width="1.0"/>
<line x1="45.40" y1="99.90" x2="50.90" y2="99.90" stroke="#000" stroke-width="1.0"/>
<line x1="371.30" y1="99.90" x2="365.80" y2="99.90" stroke="#000" stroke-width="1.0"/>
<line x1="45.40" y1="94.39" x2="50.90" y2="94.39" stroke="#000" stroke-width="1.0"/>
<line x1="371.30" y1="94.39" x2="365.80" y2="94.39" stroke="#000" stroke-width="1.0"/>
<line x1="45.40" y1="89.73" x2="50.90" y2="89.73" stroke="#000" stroke-width="1.0"/>
<line x1="371.30" y1="89.73" x2="365.80" y2="89.73" stroke="#000" stroke-width="1.0"/>
<line x1="45.40" y1="85.69" x2="50.90" y2="85.69" stroke="#000" stroke-width="1.0"/>
<line x1="371.30" y1="85.69" x2="365.80" y2="85.69" stroke="#000" stroke-width="1.0"/>
<line x1="45.40" y1="82.13" x2="50.90" y2="82.13" stroke="#000" stroke-width="1.0"/>
<line x1="371.30" y1="82.13" x2="365.80" y2="82.13" stroke="#000" stroke-width="1.0"/>
<line x1="45.40" y1="78.95" x2="56.40" y2="78.95" stroke="#000" stroke-width="1.0"/>
<line x1="371.30" y1="78.95" x2="360.30" y2="78.95" stroke="#000" stroke-width="1.0"/>
<line x1="45.40" y1="58.00" x2="50.90" y2="58.00" stroke="#000" stroke-width="1.0"/>
<line x1="371.30" y1="58.00" x2="365.80" y2="58.00" stroke="#000" stroke-width="1.0"/>
<line x1="45.40" y1="45.74" x2="50.90" y2="45.74" stroke="#000" stroke-width="1.0"/>
<line x1="371.30" y1="45.74" x2="365.80" y2="45.74" stroke="#000" stroke-width="1.0"/>
<line x1="45.40" y1="37.05" x2="50.90" y2="37.05" stroke="#000" stroke-width="1.0"/>
<line x1="371.30" y1="37.05" x2="365.80" y2="37.05" stroke="#000" stroke-width="1.0"/>
<line x1="45.40" y1="30.30" x2="50.90" y2="30.30" stroke="#000" stroke-width="1.0"/>
<line x1="371.30" y1="30.30" x2="365.80" y2="30.30" stroke="#000" stroke-width="1.0"/>
<line x1="45.40" y1="24.79" x2="50.90" y2="24.79" stroke="#000" stroke-width="1.0"/>
<line x1="371.30" y1="24.79" x2="365.80" y2="24.79" stroke="#000" stroke-width="1.0"/>
<line x1="45.40" y1="20.13" x2="50.90" y2="20.13" stroke="#000" stroke-width="1.0"/>
<line x1="371.30" y1="20.13" x2="365.80" y2="20.13" stroke="#000" stroke-width="1.0"/>
<line x1="51.80" y1="17.50" x2="51.80" y2="25.90" stroke="#000" stroke-width="1.0"/>
<line x1="51.80" y1="317.40" x2="51.80" y2="309.00" stroke="#000" stroke-width="1.0"/>
<line x1="51.80" y1="317.40" x2="51.80" y2="322.70" stroke="#000" stroke-width="1.0"/>
<line x1="51.80" y1="477.80" x2="51.80" y2="472.50" stroke="#000" stroke-width="1.0"/>
<line x1="61.76" y1="17.50" x2="61.76" y2="20.10" stroke="#000" stroke-width="1.0"/>
<line x1="61.76" y1="317.40" x2="61.76" y2="314.80" stroke="#000" stroke-width="1.0"/>
<line x1="61.76" y1="317.40" x2="61.76" y2="318.60" stroke="#000" stroke-width="1.0"/>
<line x1="61.76" y1="477.80" x2="61.76" y2="476.60" stroke="#000" stroke-width="1.0"/>
<line x1="71.72" y1="17.50" x2="71.72" y2="21.90" stroke="#000" stroke-width="1.0"/>
<line x1="71.72" y1="317.40" x2="71.72" y2="313.00" stroke="#000" stroke-width="1.0"/>
<line x1="71.72" y1="317.40" x2="71.72" y2="319.70" stroke="#000" stroke-width="1.0"/>
<line x1="71.72" y1="477.80" x2="71.72" y2="475.50" stroke="#000" stroke-width="1.0"/>
<line x1="81.69" y1="17.50" x2="81.69" y2="20.10" stroke="#000" stroke-width="1.0"/>
<line x1="81.69" y1="317.40" x2="81.69" y2="314.80" stroke="#000" stroke-width="1.0"/>
<line x1="81.69" y1="317.40" x2="81.69" y2="318.60" stroke="#000" stroke-width="1.0"/>
<line x1="81.69" y1="477.80" x2="81.69" y2="476.60" stroke="#000" stroke-width="1.0"/>
<line x1="91.65" y1="17.50" x2="91.65" y2="21.90" stroke="#000" stroke-width="1.0"/>
<line x1="91.65" y1="317.40" x2="91.65" y2="313.00" stroke="#000" stroke-width="1.0"/>
<line x1="91.65" y1="317.40" x2="91.65" y2="319.70" stroke="#000" stroke-width="1.0"/>
<line x1="91.65" y1="477.80" x2="91.65" y2="475.50" stroke="#000" stroke-width="1.0"/>
<line x1="101.61" y1="17.50" x2="101.61" y2="20.10" stroke="#000" stroke-width="1.0"/>
<line x1="101.61" y1="317.40" x2="101.61" y2="314.80" stroke="#000" stroke-width="1.0"/>
<line x1="101.61" y1="317.40" x2="101.61" y2="318.60" stroke="#000" stroke-width="1.0"/>
<line x1="101.61" y1="477.80" x2="101.61" y2="476.60" stroke="#000" stroke-width="1.0"/>
<line x1="111.57" y1="17.50" x2="111.57" y2="21.90" stroke="#000" stroke-width="1.0"/>
<line x1="111.57" y1="317.40" x2="111.57" y2="313.00" stroke="#000" stroke-width="1.0"/>
<line x1="111.57" y1="317.40" x2="111.57" y2="319.70" stroke="#000" stroke-width="1.0"/>
<line x1="111.57" y1="477.80" x2="111.57" y2="475.50" stroke="#000" stroke-width="1.0"/>
<line x1="121.53" y1="17.50" x2="121.53" y2="20.10" stroke="#000" stroke-width="1.0"/>
<line x1="121.53" y1="317.40" x2="121.53" y2="314.80" stroke="#000" stroke-width="1.0"/>
<line x1="121.53" y1="317.40" x2="121.53" y2="318.60" stroke="#000" stroke-width="1.0"/>
<line x1="121.53" y1="477.80" x2="121.53" y2="476.60" stroke="#000" stroke-width="1.0"/>
<line x1="131.50" y1="17.50" x2="131.50" y2="21.90" stroke="#000" stroke-width="1.0"/>
<line x1="131.50" y1="317.40" x2="131.50" y2="313.00" stroke="#000" stroke-width="1.0"/>
<line x1="131.50" y1="317.40" x2="131.50" y2="319.70" stroke="#000" stroke-width="1.0"/>
<line x1="131.50" y1="477.80" x2="131.50" y2="475.50" stroke="#000" stroke-width="1.0"/>
<line x1="141.46" y1="17.50" x2="141.46" y2="20.10" stroke="#000" stroke-width="1.0"/>
<line x1="141.46" y1="317.40" x2="141.46" y2="314.80" stroke="#000" stroke-width="1.0"/>
<line x1="141.46" y1="317.40" x2="141.46" y2="318.60" stroke="#000" stroke-width="1.0"/>
<line x1="141.46" y1="477.80" x2="141.46" y2="476.60" stroke="#000" stroke-width="1.0"/>
<line x1="151.42" y1="17.50" x2="151.42" y2="25.90" stroke="#000" stroke-width="1.0"/>
<line x1="151.42" y1="317.40" x2="151.42" y2="309.00" stroke="#000" stroke-width="1.0"/>
<line x1="151.42" y1="317.40" x2="151.42" y2="322.70" stroke="#000" stroke-width="1.0"/>
<line x1="151.42" y1="477.80" x2="151.42" y2="472.50" stroke="#000" stroke-width="1.0"/>
<line x1="161.38" y1="17.50" x2="161.38" y2="20.10" stroke="#000" stroke-width="1.0"/>
<line x1="161.38" y1="317.40" x2="161.38" y2="314.80" stroke="#000" stroke-width="1.0"/>
<line x1="161.38" y1="317.40" x2="161.38" y2="318.60" stroke="#000" stroke-width="1.0"/>
<line x1="161.38" y1="477.80" x2="161.38" y2="476.60" stroke="#000" stroke-width="1.0"/>
<line x1="171.34" y1="17.50" x2="171.34" y2="21.90" stroke="#000" stroke-width="1.0"/>
<line x1="171.34" y1="317.40" x2="171.34" y2="313.00" stroke="#000" stroke-width="1.0"/>
<line x1="171.34" y1="317.40" x2="171.34" y2="319.70" stroke="#000" stroke-width="1.0"/>
<line x1="171.34" y1="477.80" x2="171.34" y2="475.50" stroke="#000" stroke-width="1.0"/>
<line x1="181.31" y1="17.50" x2="181.31" y2="20.10" stroke="#000" stroke-width="1.0"/>
<line x1="181.31" y1="317.40" x2="181.31" y2="314.80" stroke="#000" stroke-width="1.0"/>
<line x1="181.31" y1="317.40" x2="181.31" y2="318.60" stroke="#000" stroke-width="1.0"/>
<line x1="181.31" y1="477.80" x2="181.31" y2="476.60" stroke="#000" stroke-width="1.0"/>
<line x1="191.27" y1="17.50" x2="191.27" y2="21.90" stroke="#000" stroke-width="1.0"/>
<line x1="191.27" y1="317.40" x2="191.27" y2="313.00" stroke="#000" stroke-width="1.0"/>
<line x1="191.27" y1="317.40" x2="191.27" y2="319.70" stroke="#000" stroke-width="1.0"/>
<line x1="191.27" y1="477.80" x2="191.27" y2="475.50" stroke="#000" stroke-width="1.0"/>
<line x1="201.23" y1="17.50" x2="201.23" y2="20.10" stroke="#000" stroke-width="1.0"/>
<line x1="201.23" y1="317.40" x2="201.23" y2="314.80" stroke="#000" stroke-width="1.0"/>
<line x1="201.23" y1="317.40" x2="201.23" y2="318.60" stroke="#000" stroke-width="1.0"/>
<line x1="201.23" y1="477.80" x2="201.23" y2="476.60" stroke="#000" stroke-width="1.0"/>
<line x1="211.19" y1="17.50" x2="211.19" y2="21.90" stroke="#000" stroke-width="1.0"/>
<line x1="211.19" y1="317.40" x2="211.19" y2="313.00" stroke="#000" stroke-width="1.0"/>
<line x1="211.19" y1="317.40" x2="211.19" y2="319.70" stroke="#000" stroke-width="1.0"/>
<line x1="211.19" y1="477.80" x2="211.19" y2="475.50" stroke="#000" stroke-width="1.0"/>
<line x1="221.15" y1="17.50" x2="221.15" y2="20.10" stroke="#000" stroke-width="1.0"/>
<line x1="221.15" y1="317.40" x2="221.15" y2="314.80" stroke="#000" stroke-width="1.0"/>
<line x1="221.15" y1="317.40" x2="221.15" y2="318.60" stroke="#000" stroke-width="1.0"/>
<line x1="221.15" y1="477.80" x2="221.15" y2="476.60" stroke="#000" stroke-width="1.0"/>
<line x1="231.12" y1="17.50" x2="231.12" y2="21.90" stroke="#000" stroke-width="1.0"/>
<line x1="231.12" y1="317.40" x2="231.12" y2="313.00" stroke="#000" stroke-width="1.0"/>
<line x1="231.12" y1="317.40" x2="231.12" y2="319.70" stroke="#000" stroke-width="1.0"/>
<line x1="231.12" y1="477.80" x2="231.12" y2="475.50" stroke="#000" stroke-width="1.0"/>
<line x1="241.08" y1="17.50" x2="241.08" y2="20.10" stroke="#000" stroke-width="1.0"/>
<line x1="241.08" y1="317.40" x2="241.08" y2="314.80" stroke="#000" stroke-width="1.0"/>
<line x1="241.08" y1="317.40" x2="241.08" y2="318.60" stroke="#000" stroke-width="1.0"/>
<line x1="241.08" y1="477.80" x2="241.08" y2="476.60" stroke="#000" stroke-width="1.0"/>
<line x1="251.04" y1="17.50" x2="251.04" y2="25.90" stroke="#000" stroke-width="1.0"/>
<line x1="251.04" y1="317.40" x2="251.04" y2="309.00" stroke="#000" stroke-width="1.0"/>
<line x1="251.04" y1="317.40" x2="251.04" y2="322.70" stroke="#000" stroke-width="1.0"/>
<line x1="251.04" y1="477.80" x2="251.04" y2="472.50" stroke="#000" stroke-width="1.0"/>
<line x1="261.00" y1="17.50" x2="261.00" y2="20.10" stroke="#000" stroke-width="1.0"/>
<line x1="261.00" y1="317.40" x2="261.00" y2="314.80" stroke="#000" stroke-width="1.0"/>
<line x1="261.00" y1="317.40" x2="261.00" y2="318.60" stroke="#000" stroke-width="1.0"/>
<line x1="261.00" y1="477.80" x2="261.00" y2="476.60" stroke="#000" stroke-width="1.0"/>
<line x1="270.96" y1="17.50" x2="270.96" y2="21.90" stroke="#000" stroke-width="1.0"/>
<line x1="270.96" y1="317.40" x2="270.96" y2="313.00" stroke="#000" stroke-width="1.0"/>
<line x1="270.96" y1="317.40" x2="270.96" y2="319.70" stroke="#000" stroke-width="1.0"/>
<line x1="270.96" y1="477.80" x2="270.96" y2="475.50" stroke="#000" stroke-width="1.0"/>
<line x1="280.93" y1="17.50" x2="280.93" y2="20.10" stroke="#000" stroke-width="1.0"/>
<line x1="280.93" y1="317.40" x2="280.93" y2="314.80" stroke="#000" stroke-width="1.0"/>
<line x1="280.93" y1="317.40" x2="280.93" y2="318.60" stroke="#000" stroke-width="1.0"/>
<line x1="280.93" y1="477.80" x2="280.93" y2="476.60" stroke="#000" stroke-width="1.0"/>
<line x1="290.89" y1="17.50" x2="290.89" y2="21.90" stroke="#000" stroke-width="1.0"/>
<line x1="290.89" y1="317.40" x2="290.89" y2="313.00" stroke="#000" stroke-width="1.0"/>
<line x1="290.89" y1="317.40" x2="290.89" y2="319.70" stroke="#000" stroke-width="1.0"/>
<line x1="290.89" y1="477.80" x2="290.89" y2="475.50" stroke="#000" stroke-width="1.0"/>
<line x1="300.85" y1="17.50" x2="300.85" y2="20.10" stroke="#000" stroke-width="1.0"/>
<line x1="300.85" y1="317.40" x2="300.85" y2="314.80" stroke="#000" stroke-width="1.0"/>
<line x1="300.85" y1="317.40" x2="300.85" y2="318.60" stroke="#000" stroke-width="1.0"/>
<line x1="300.85" y1="477.80" x2="300.85" y2="476.60" stroke="#000" stroke-width="1.0"/>
<line x1="310.81" y1="17.50" x2="310.81" y2="21.90" stroke="#000" stroke-width="1.0"/>
<line x1="310.81" y1="317.40" x2="310.81" y2="313.00" stroke="#000" stroke-width="1.0"/>
<line x1="310.81" y1="317.40" x2="310.81" y2="319.70" stroke="#000" stroke-width="1.0"/>
<line x1="310.81" y1="477.80" x2="310.81" y2="475.50" stroke="#000" stroke-width="1.0"/>
<line x1="320.77" y1="17.50" x2="320.77" y2="20.10" stroke="#000" stroke-width="1.0"/>
<line x1="320.77" y1="317.40" x2="320.77" y2="314.80" stroke="#000" stroke-width="1.0"/>
<line x1="320.77" y1="317.40" x2="320.77" y2="318.60" stroke="#000" stroke-width="1.0"/>
<line x1="320.77" y1="477.80" x2="320.77" y2="476.60" stroke="#000" stroke-width="1.0"/>
<line x1="330.74" y1="17.50" x2="330.74" y2="21.90" stroke="#000" stroke-width="1.0"/>
<line x1="330.74" y1="317.40" x2="330.74" y2="313.00" stroke="#000" stroke-width="1.0"/>
<line x1="330.74" y1="317.40" x2="330.74" y2="319.70" stroke="#000" stroke-width="1.0"/>
<line x1="330.74" y1="477.80" x2="330.74" y2="475.50" stroke="#000" stroke-width="1.0"/>
<line x1="340.70" y1="17.50" x2="340.70" y2="20.10" stroke="#000" stroke-width="1.0"/>
<line x1="340.70" y1="317.40" x2="340.70" y2="314.80" stroke="#000" stroke-width="1.0"/>
<line x1="340.70" y1="317.40" x2="340.70" y2="318.60" stroke="#000" stroke-width="1.0"/>
<line x1="340.70" y1="477.80" x2="340.70" y2="476.60" stroke="#000" stroke-width="1.0"/>
<line x1="350.66" y1="17.50" x2="350.66" y2="25.90" stroke="#000" stroke-width="1.0"/>
<line x1="350.66" y1="317.40" x2="350.66" y2="309.00" stroke="#000" stroke-width="1.0"/>
<line x1="350.66" y1="317.40" x2="350.66" y2="322.70" stroke="#000" stroke-width="1.0"/>
<line x1="350.66" y1="477.80" x2="350.66" y2="472.50" stroke="#000" stroke-width="1.0"/>
<line x1="360.62" y1="17.50" x2="360.62" y2="20.10" stroke="#000" stroke-width="1.0"/>
<line x1="360.62" y1="317.40" x2="360.62" y2="314.80" stroke="#000" stroke-width="1.0"/>
<line x1="360.62" y1="317.40" x2="360.62" y2="318.60" stroke="#000" stroke-width="1.0"/>
<line x1="360.62" y1="477.80" x2="360.62" y2="476.60" stroke="#000" stroke-width="1.0"/>
<line x1="370.58" y1="17.50" x2="370.58" y2="21.90" stroke="#000" stroke-width="1.0"/>
<line x1="370.58" y1="317.40" x2="370.58" y2="313.00" stroke="#000" stroke-width="1.0"/>
<line x1="370.58" y1="317.40" x2="370.58" y2="319.70" stroke="#000" stroke-width="1.0"/>
<line x1="370.58" y1="477.80" x2="370.58" y2="475.50" stroke="#000" stroke-width="1.0"/>
<line x1="45.40" y1="458.30" x2="52.60" y2="458.30" stroke="#000" stroke-width="1.0"/>
<line x1="371.30" y1="458.30" x2="364.10" y2="458.30" stroke="#000" stroke-width="1.0"/>
<line x1="45.40" y1="442.36" x2="50.70" y2="442.36" stroke="#000" stroke-width="1.0"/>
<line x1="371.30" y1="442.36" x2="366.00" y2="442.36" stroke="#000" stroke-width="1.0"/>
<line x1="45.40" y1="428.88" x2="50.70" y2="428.88" stroke="#000" stroke-width="1.0"/>
<line x1="371.30" y1="428.88" x2="366.00" y2="428.88" stroke="#000" stroke-width="1.0"/>
<line x1="45.40" y1="417.21" x2="50.70" y2="417.21" stroke="#000" stroke-width="1.0"/>
<line x1="371.30" y1="417.21" x2="366.00" y2="417.21" stroke="#000" stroke-width="1.0"/>
<line x1="45.40" y1="406.91" x2="50.70" y2="406.91" stroke="#000" stroke-width="1.0"/>
<line x1="371.30" y1="406.91" x2="366.00" y2="406.91" stroke="#000" stroke-width="1.0"/>
<line x1="45.40" y1="397.70" x2="54.40" y2="397.70" stroke="#000" stroke-width="1.0"/>
<line x1="371.30" y1="397.70" x2="362.30" y2="397.70" stroke="#000" stroke-width="1.0"/>
<line x1="45.40" y1="389.37" x2="50.70" y2="389.37" stroke="#000" stroke-width="1.0"/>
<line x1="371.30" y1="389.37" x2="366.00" y2="389.37" stroke="#000" stroke-width="1.0"/>
<line x1="45.40" y1="381.76" x2="50.70" y2="381.76" stroke="#000" stroke-width="1.0"/>
<line x1="371.30" y1="381.76" x2="366.00" y2="381.76" stroke="#000" stroke-width="1.0"/>
<line x1="45.40" y1="374.76" x2="50.70" y2="374.76" stroke="#000" stroke-width="1.0"/>
<line x1="371.30" y1="374.76" x2="366.00" y2="374.76" stroke="#000" stroke-width="1.0"/>
<line x1="45.40" y1="368.28" x2="50.70" y2="368.28" stroke="#000" stroke-width="1.0"/>
<line x1="371.30" y1="368.28" x2="366.00" y2="368.28" stroke="#000" stroke-width="1.0"/>
<line x1="45.40" y1="362.25" x2="52.60" y2="362.25" stroke="#000" stroke-width="1.0"/>
<line x1="371.30" y1="362.25" x2="364.10" y2="362.25" stroke="#000" stroke-width="1.0"/>
<line x1="45.40" y1="356.61" x2="50.70" y2="356.61" stroke="#000" stroke-width="1.0"/>
<line x1="371.30" y1="356.61" x2="366.00" y2="356.61" stroke="#000" stroke-width="1.0"/>
<line x1="45.40" y1="351.31" x2="50.70" y2="351.31" stroke="#000" stroke-width="1.0"/>
<line x1="371.30" y1="351.31" x2="366.00" y2="351.31" stroke="#000" stroke-width="1.0"/>
<line x1="45.40" y1="346.31" x2="50.70" y2="346.31" stroke="#000" stroke-width="1.0"/>
<line x1="371.30" y1="346.31" x2="366.00" y2="346.31" stroke="#000" stroke-width="1.0"/>
<line x1="45.40" y1="341.59" x2="50.70" y2="341.59" stroke="#000" stroke-width="1.0"/>
<line x1="371.30" y1="341.59" x2="366.00" y2="341.59" stroke="#000" stroke-width="1.0"/>
<line x1="45.40" y1="337.10" x2="52.60" y2="337.10" stroke="#000" stroke-width="1.0"/>
<line x1="371.30" y1="337.10" x2="364.10" y2="337.10" stroke="#000" stroke-width="1.0"/>
<line x1="45.40" y1="332.84" x2="50.70" y2="332.84" stroke="#000" stroke-width="1.0"/>
<line x1="371.30" y1="332.84" x2="366.00" y2="332.84" stroke="#000" stroke-width="1.0"/>
<line x1="45.40" y1="328.77" x2="50.70" y2="328.77" stroke="#000" stroke-width="1.0"/>
<line x1="371.30" y1="328.77" x2="366.00" y2="328.77" stroke="#000" stroke-width="1.0"/>
<line x1="45.40" y1="324.88" x2="50.70" y2="324.88" stroke="#000" stroke-width="1.0"/>
<line x1="371.30" y1="324.88" x2="366.00" y2="324.88" stroke="#000" stroke-width="1.0"/>
<line x1="45.40" y1="321.16" x2="50.70" y2="321.16" stroke="#000" stroke-width="1.0"/>
<line x1="371.30" y1="321.16" x2="366.00" y2="321.16" stroke="#000" stroke-width="1.0"/>
<rect x="45.4" y="17.5" width="325.90" height="299.90" fill="none" stroke="#000" stroke-width="1.25"/>
<rect x="45.4" y="317.4" width="325.90" height="160.40" fill="none" stroke="#000" stroke-width="1.2"/>
<line x1="63.9" y1="62" x2="88.8" y2="62" stroke="#0000ff" stroke-width="1.2" opacity="0.85"/><path d="M73.80,64.65 L79.20,64.65 L76.50,59.55Z" fill="#0000ff"/><line x1="63.9" y1="75" x2="88.8" y2="75" stroke="#0f9ac4" stroke-width="1.2" stroke-dasharray="4,2,1,2" opacity="0.75"/><path d="M73.80,72.90 L79.20,72.90 L76.50,77.90Z" fill="#0f9ac4"/>
<text transform="translate(51.1,13.9) scale(1.0,1.05)" font-size="12.2" text-anchor="start" fill="#000" >7000 GeV pp</text><text transform="translate(367.3,13.9) scale(1.0,1.05)" font-size="12.2" text-anchor="end" fill="#000" >Top (parton level)</text><text transform="translate(186.9,42.6)" font-size="10.1" text-anchor="start" fill="#000" >Δϕ</text><text transform="translate(203.4,42.6)" font-size="10.35" text-anchor="start" fill="#000" >(ttbar)</text><text transform="translate(94.3,64.7)" font-size="9.4" text-anchor="start" fill="#000" >Pythia 8.315 default</text><text transform="translate(94.3,78.3)" font-size="9.4" text-anchor="start" fill="#000" >Pythia 8.315 vincia-default</text><text transform="translate(173.8,302.0) scale(1.0,1.07)" font-size="7.9" text-anchor="start" fill="#a6a6a6" >(MC_FBA_TTBAR)</text><path d="M27.20,83.70 L27.20,76.00 L26.04,76.00 Q25.51,77.08 23.97,77.54 L23.97,78.54 Q24.89,78.46 25.81,77.85 L25.81,83.70Z" fill="#000"/><text transform="translate(29.0,83.7) scale(1.0,1.05)" font-size="11.0" text-anchor="start" fill="#000" >0</text><text transform="translate(34.6,79.2) scale(1.0,1.05)" font-size="7.6" text-anchor="start" fill="#000" >3</text><path d="M27.20,153.70 L27.20,146.00 L26.04,146.00 Q25.51,147.08 23.97,147.54 L23.97,148.54 Q24.89,148.46 25.81,147.85 L25.81,153.70Z" fill="#000"/><text transform="translate(29.0,153.7) scale(1.0,1.05)" font-size="11.0" text-anchor="start" fill="#000" >0</text><text transform="translate(34.6,149.1) scale(1.0,1.05)" font-size="7.6" text-anchor="start" fill="#000" >2</text><path d="M31.20,221.70 L31.20,214.10 L30.06,214.10 Q29.53,215.16 28.01,215.62 L28.01,216.61 Q28.92,216.53 29.83,215.92 L29.83,221.70Z" fill="#000"/><text transform="translate(33.7,221.7) scale(1.0,1.05)" font-size="11.0" text-anchor="start" fill="#000" >0</text><path d="M39.10,291.80 L39.10,284.10 L37.95,284.10 Q37.41,285.18 35.87,285.64 L35.87,286.64 Q36.79,286.56 37.71,285.95 L37.71,291.80Z" fill="#000"/><text transform="translate(38.4,340.9) scale(1.0,1.05)" font-size="11.3" text-anchor="end" fill="#000" >2</text><path d="M37.20,402.00 L37.20,393.80 L35.97,393.80 Q35.40,394.95 33.76,395.44 L33.76,396.51 Q34.74,396.42 35.72,395.77 L35.72,402.00Z" fill="#000"/><text transform="translate(38.4,462.0) scale(1.0,1.05)" font-size="11.3" text-anchor="end" fill="#000" >0.5</text><text transform="translate(373.6,340.9) scale(1.0,1.05)" font-size="11.3" text-anchor="start" fill="#000" >2</text><path d="M378.20,402.90 L378.20,394.50 L376.94,394.50 Q376.35,395.68 374.67,396.18 L374.67,397.27 Q375.68,397.19 376.69,396.52 L376.69,402.90Z" fill="#000"/><text transform="translate(373.6,462.3) scale(1.0,1.05)" font-size="11.3" text-anchor="start" fill="#000" >0.5</text><text transform="translate(51.15,489.1) scale(1.0,1.08)" font-size="11.3" text-anchor="middle" fill="#000" >0</text><path d="M154.20,488.70 L154.20,480.80 L153.01,480.80 Q152.46,481.91 150.88,482.38 L150.88,483.41 Q151.83,483.33 152.78,482.70 L152.78,488.70Z" fill="#000"/><text transform="translate(250.95,488.7) scale(1.0,1.06)" font-size="11.3" text-anchor="middle" fill="#000" >2</text><text transform="translate(350.95,489.1) scale(1.0,1.08)" font-size="11.3" text-anchor="middle" fill="#000" >3</text><text transform="translate(16.9,452.2) rotate(-90) scale(1.0,1.08)" font-size="9.0" text-anchor="start" fill="#000" >Ratio to Pythia 8.315 default</text><text transform="translate(380.2,126.8) rotate(-90)" font-size="9.45" text-anchor="start" fill="#7a7a7a" >Rivet 4.1.0, ≥ 100k events</text><text transform="translate(380.9,313.2) rotate(-90)" font-size="9.3" text-anchor="start" fill="#7a7a7a" >mcplots.cern.ch [arXiv:2401.10621]</text>
</svg>
</body></html>
